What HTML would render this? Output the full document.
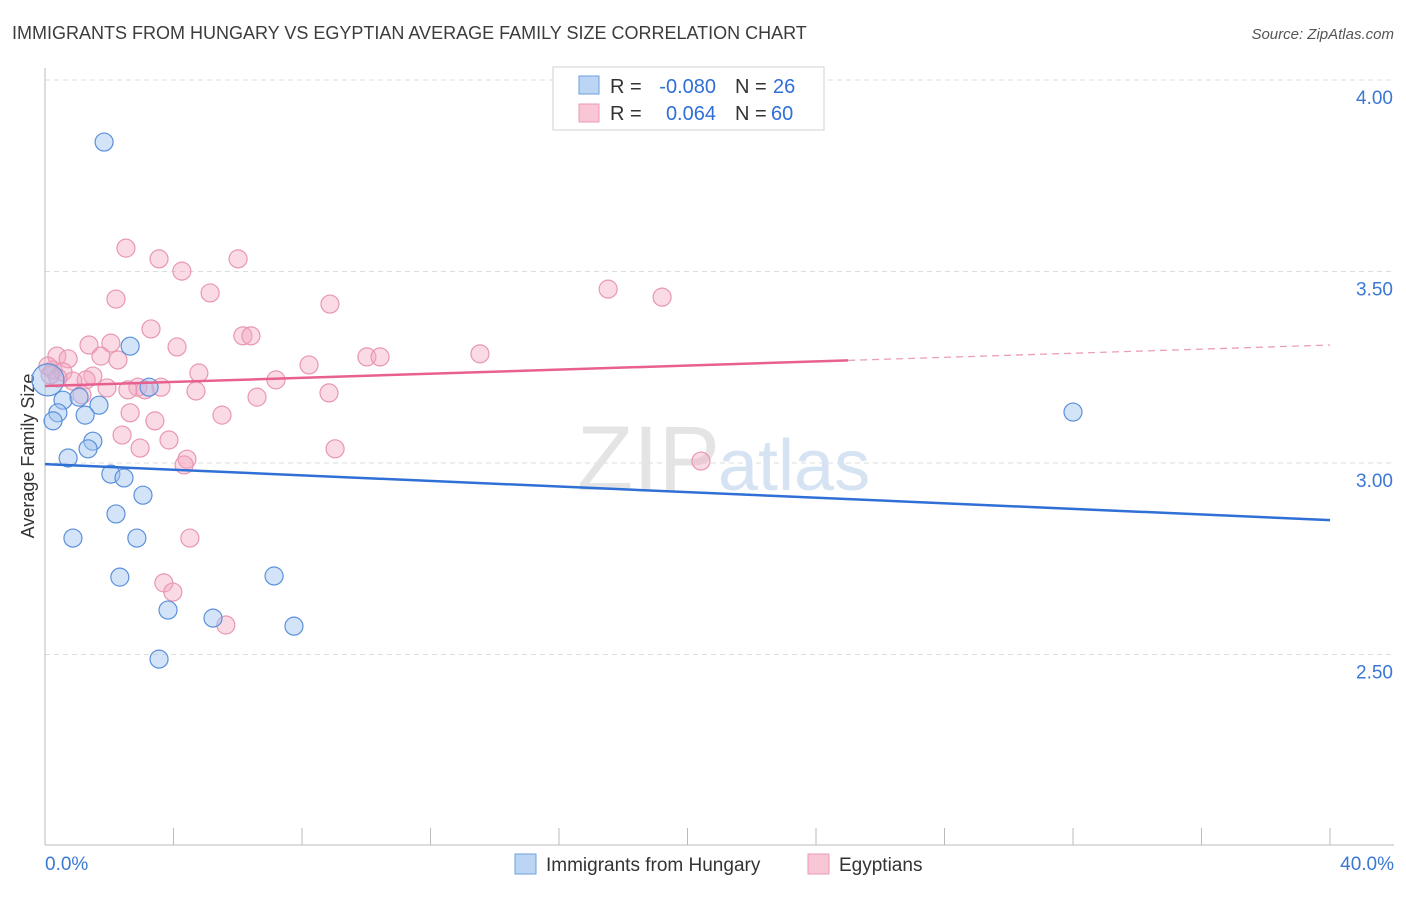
<!DOCTYPE html>
<html><head><meta charset="utf-8"><style>
body{margin:0;background:#fff;font-family:"Liberation Sans",sans-serif;}
svg text{font-family:"Liberation Sans",sans-serif;}
</style></head><body>
<svg id="chart" width="1406" height="892" viewBox="0 0 1406 892">
<text x="12" y="39" font-size="18" fill="#3c3c3c">IMMIGRANTS FROM HUNGARY VS EGYPTIAN AVERAGE FAMILY SIZE CORRELATION CHART</text>
<text x="1394" y="39" font-size="15" fill="#555" font-style="italic" text-anchor="end">Source: ZipAtlas.com</text>
<g id="grid"></g>
<g id="axes"></g>
<text x="720" y="490" font-size="92" fill="#e4e4e4" text-anchor="end" font-family="Liberation Serif">ZIP</text>
<text x="718" y="490" font-size="72" fill="#d6e3f3">atlas</text>
<text transform="translate(34,456) rotate(-90)" font-size="18" fill="#333" text-anchor="middle">Average Family Size</text>
<g id="points"></g>
<g id="trends"></g>
<g>
<rect x="553" y="67" width="271" height="63" fill="#fff" stroke="#d0d0d0"/>
<rect x="579" y="76" width="20" height="18" fill="#bcd5f5" stroke="#6d9fe0"/>
<text x="610" y="93" font-size="20" fill="#333">R =</text>
<text x="716" y="93" font-size="20" fill="#2f6fd6" text-anchor="end">-0.080</text>
<text x="735" y="93" font-size="20" fill="#333">N =</text>
<text x="773" y="93" font-size="20" fill="#2f6fd6">26</text>
<rect x="579" y="104" width="20" height="18" fill="#f9c6d6" stroke="#ea9ab6"/>
<text x="610" y="120" font-size="20" fill="#333">R =</text>
<text x="716" y="120" font-size="20" fill="#2f6fd6" text-anchor="end">0.064</text>
<text x="735" y="120" font-size="20" fill="#333">N =</text>
<text x="771" y="120" font-size="20" fill="#2f6fd6">60</text>
</g>
<g>
<rect x="515" y="854" width="21" height="20" fill="#bcd5f5" stroke="#6d9fe0"/>
<text x="546" y="871" font-size="19" fill="#333">Immigrants from Hungary</text>
<rect x="808" y="854" width="21" height="20" fill="#f9c6d6" stroke="#ea9ab6"/>
<text x="839" y="871" font-size="19" fill="#333">Egyptians</text>
</g>
</svg>
<script>
const yTicks=[2.5,3.0,3.5,4.0];
const yTickLabels=["2.50","3.00","3.50","4.00"];
const xTickLabels=["0.0%","40.0%"];
const hungaryX=[1.84,2.65,3.24,0.56,1.06,1.68,0.40,1.25,0.25,1.49,1.34,0.72,2.05,2.46,3.05,2.21,0.87,2.86,2.33,7.13,3.83,5.23,7.75,3.55,32.0,0.09];
const hungaryY=[3.838,3.305,3.198,3.164,3.172,3.151,3.131,3.125,3.110,3.057,3.037,3.013,2.971,2.961,2.916,2.867,2.804,2.804,2.702,2.705,2.616,2.595,2.574,2.488,3.133,3.217];
const egyptX=[2.52,3.55,6.01,4.26,2.21,5.14,8.87,17.53,19.21,3.30,6.16,6.41,1.37,2.05,4.11,0.37,0.72,1.74,2.27,10.02,10.43,13.54,8.22,4.79,0.25,0.56,1.49,1.28,0.87,7.19,1.93,2.89,3.61,3.11,2.58,4.70,1.15,6.60,8.84,2.65,5.51,3.42,2.40,3.86,2.96,9.03,4.42,4.33,20.42,4.51,3.70,3.98,5.63,0.09,0.40,0.16];
const egyptY=[3.561,3.533,3.533,3.501,3.428,3.444,3.415,3.454,3.433,3.350,3.332,3.332,3.308,3.313,3.303,3.279,3.272,3.279,3.269,3.277,3.277,3.285,3.256,3.235,3.243,3.238,3.227,3.217,3.214,3.217,3.196,3.198,3.198,3.191,3.191,3.188,3.178,3.172,3.183,3.131,3.125,3.110,3.073,3.060,3.039,3.037,3.010,2.995,3.005,2.804,2.687,2.663,2.577,3.253,3.222,3.230];
const hungaryTrend=[2.997,2.851];
const egyptTrend=[3.201,3.308];
const egyptSolidEnd=25;

const NS="http://www.w3.org/2000/svg";
const X=p=>45+p/40*1285;
const Y=v=>463-(v-3)*383;
function mk(tag,attrs,parent){const e=document.createElementNS(NS,tag);for(const k in attrs)e.setAttribute(k,attrs[k]);parent.appendChild(e);return e;}
const grid=document.getElementById('grid'),axes=document.getElementById('axes'),pts=document.getElementById('points'),tr=document.getElementById('trends');
yTicks.forEach((t,i)=>{
  const l=mk('line',{x1:45,x2:1394,y1:Y(t),y2:Y(t),stroke:'#dcdcdc','stroke-dasharray':'5,4'},grid);
  
  
  const tx=mk('text',{x:1393,y:Y(t)+24,'font-size':19,fill:'#3a78d4','text-anchor':'end'},axes);
  tx.textContent=yTickLabels[i];
  
  
});
const ya=mk('line',{x1:45,x2:45,y1:68,y2:845,stroke:'#bbb'},axes);


const xa=mk('line',{x1:45,x2:1394,y1:845,y2:845,stroke:'#bbb'},axes);


for(let i=0;i<=10;i++){
  const t=mk('line',{x1:X(i*4),x2:X(i*4),y1:828,y2:845,stroke:'#bbb'},axes);
  
  
}
[[0,'start',45],[40,'end',1394]].forEach((d,i)=>{
  const tx=mk('text',{x:d[2],y:870,'font-size':19,fill:'#3a78d4','text-anchor':d[1]},axes);
  tx.textContent=xTickLabels[i];
  
  
});
egyptX.forEach((x,i)=>{
  const c=mk('circle',{cx:X(x),cy:Y(egyptY[i]),r:9,fill:'rgba(244,168,194,0.42)',stroke:'#e897b3','stroke-width':1.2},pts);
  
  
});
hungaryX.forEach((x,i)=>{
  const big=i===hungaryX.length-1;
  const c=mk('circle',{cx:X(x),cy:Y(hungaryY[i]),r:big?16:9,fill:'rgba(160,196,240,0.45)',stroke:'#5b90da','stroke-width':1.2},pts);
  
  
});
const hb=mk('line',{x1:X(0),y1:Y(hungaryTrend[0]),x2:X(40),y2:Y(hungaryTrend[1]),stroke:'#2f6fd6','stroke-width':2.5},tr);


const ey=p=>egyptTrend[0]+(egyptTrend[1]-egyptTrend[0])*p/40;
const es=mk('line',{x1:X(0),y1:Y(ey(0)),x2:X(egyptSolidEnd),y2:Y(ey(egyptSolidEnd)),stroke:'#e8608f','stroke-width':2.5},tr);


const ed=mk('line',{x1:X(egyptSolidEnd),y1:Y(ey(egyptSolidEnd)),x2:X(40),y2:Y(ey(40)),stroke:'#e8a0b8','stroke-width':1.3,'stroke-dasharray':'7,5'},tr);


</script>
</body></html>
